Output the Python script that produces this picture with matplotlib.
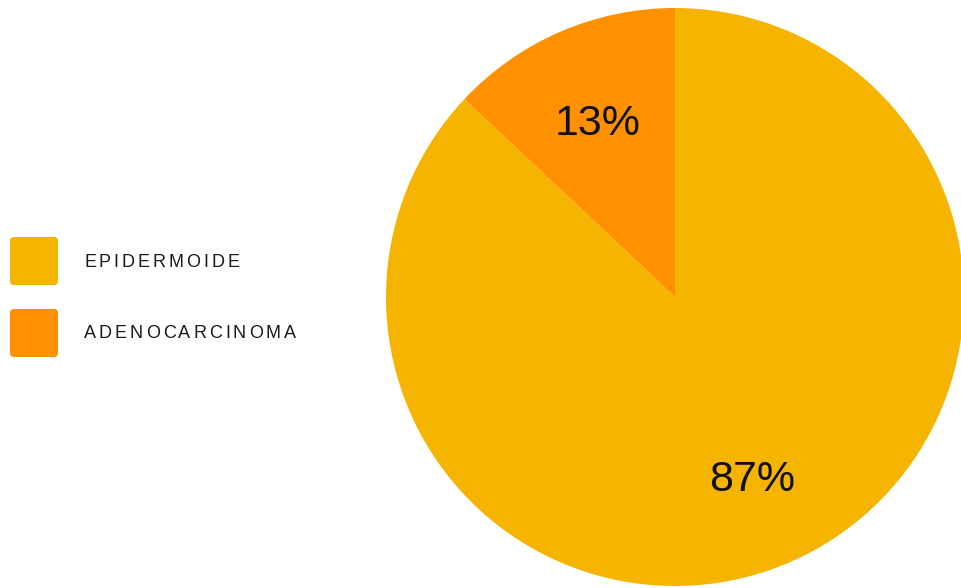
import matplotlib
matplotlib.use("Agg")
import matplotlib.pyplot as plt
from matplotlib.patches import FancyBboxPatch
from matplotlib.transforms import Affine2D, ScaledTranslation

categories = ["EPIDERMOIDE", "ADENOCARCINOMA"]
values = [87, 13]
colors = ["#F4B400", "#FF9100"]

W, H = 961, 588
fig = plt.figure(figsize=(W / 100, H / 100), dpi=100)
plt.rcParams['font.family'] = ['Liberation Sans', 'DejaVu Sans']

# pie
cx, cy, r = 675, 297, 289
ax = fig.add_axes([(cx - r) / W, (H - cy - r) / H, 2 * r / W, 2 * r / H])
wedges, texts, autotexts = ax.pie(
    values, colors=colors, startangle=90, counterclock=False,
    autopct=lambda p: f"{p:.0f}%", pctdistance=0.67, radius=1,
    wedgeprops=dict(linewidth=0),
    textprops=dict(fontsize=31, color="#111111"))
for t in autotexts:
    t.set_transform(t.get_transform() + ScaledTranslation(0, -5 / 100, fig.dpi_scale_trans))
ax.set_xlim(-1, 1)
ax.set_ylim(-1, 1)
ax.set_aspect('equal')
ax.axis('off')

# legend
renderer = fig.canvas.get_renderer()
box_y = [237, 309]
for i, (cat, col) in enumerate(zip(categories, colors)):
    y0 = box_y[i]
    p = FancyBboxPatch((10 + 4, H - (y0 + 48) + 4), 40, 40,
                       boxstyle="round,pad=4", facecolor=col, edgecolor='none',
                       transform=None)
    fig.patches.append(p)
    x = 84
    yc = H - (y0 + 25)
    for ch in cat:
        t = fig.text(x / W, yc / H, ch, fontsize=13, color="#1a1a1a",
                     va='center', ha='left')
        bb = t.get_window_extent(renderer=renderer)
        x += bb.width + 2.9

fig.savefig("out.png", dpi=100)
